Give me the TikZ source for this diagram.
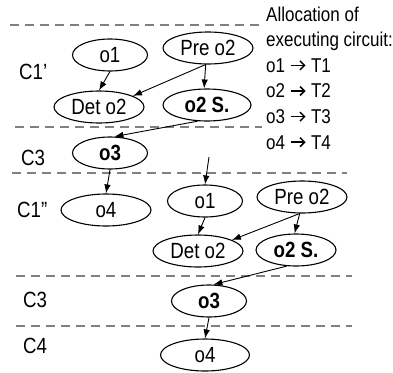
\documentclass[tikz,border=0pt]{standalone}
\usepackage{fontspec}
\setmainfont{Liberation Sans}[FakeStretch=0.85]
\usetikzlibrary{shapes.geometric,arrows.meta}

\tikzset{
	op/.style={draw, ellipse, line width=1.1pt, inner sep=0pt, minimum width=#1, minimum height=32pt, font=\fontsize{22}{24}\selectfont},
	op/.default=75pt,
	flow/.style={-{Latex[length=9pt,width=6.5pt]}, line width=0.9pt},
	cut/.style={gray, line width=2pt, dash pattern=on 9pt off 6pt},
	phase/.style={anchor=west, inner sep=0pt, font=\fontsize{22}{24}\selectfont}
}
% open arrow for the allocation list
\newcommand{\allocto}{\tikz[x=1pt,y=1pt,baseline=0pt]\draw[line width=1.5pt,-{Straight Barb[length=4.5pt,width=9pt]}] (0,7) -- (15,7);}

\begin{document}
\begin{tikzpicture}[x=1pt,y=-1pt]
	\useasboundingbox (0,0) rectangle (393,372);
	% cycle borders
	\draw[cut] (10,25) -- (262,25);
	\draw[cut] (15,127) -- (262,127);
	\draw[cut] (12,173) -- (347,173);
	\draw[cut] (16,276) -- (352,276);
	\draw[cut] (16,326) -- (352,326);
	\node[phase] (c1a) at (19,72) {C1’};
	\node[phase] (c3a) at (21,158) {C3};
	\node[phase] (c1b) at (17,210) {C1”};
	\node[phase] (c3b) at (23,300) {C3};
	\node[phase] (c4) at (23,346) {C4};
	% first schedule
	\node[op] (o1a) at (110,55) {o1};
	\node[op=90pt] (pre2a) at (208,48) {Pre o2};
	\node[op=90pt] (det2a) at (99,107) {Det o2};
	\node[op=88pt] (s2a) at (207,105) {\textbf{o2 S.}};
	\node[op] (o3a) at (110,153) {\textbf{o3}};
	\node[op=90pt] (o4a) at (106,210) {o4};
	\draw[flow] (o1a.south) -- (det2a.north);
	\draw[flow] (pre2a.262) -- (det2a.18);
	\draw[flow] (pre2a.262) -- (s2a.100);
	\draw[flow] (s2a.240) -- (o3a.75);
	\draw[flow] (o3a.south) -- (o4a.north);
	% second schedule
	\coordinate (in) at (209,157);
	\node[op] (o1b) at (205,201) {o1};
	\node[op=90pt] (pre2b) at (302,197) {Pre o2};
	\node[op=90pt] (det2b) at (198,251) {Det o2};
	\node[op=80pt] (s2b) at (296,250) {\textbf{o2 S.}};
	\node[op] (o3b) at (209,301) {\textbf{o3}};
	\node[op=89pt] (o4b) at (205,355) {o4};
	\draw[flow] (in) -- (o1b.north);
	\draw[flow] (o1b.south) -- (det2b.north);
	\draw[flow] (pre2b.262) -- (det2b.18);
	\draw[flow] (pre2b.262) -- (s2b.95);
	\draw[flow] (s2b.240) -- (o3b.75);
	\draw[flow] (o3b.south) -- (o4b.north);
	\node[anchor=north west, align=left, inner sep=0pt, font=\fontsize{20}{25.6}\selectfont] (alloc) at (266,6.5)
		{Allocation of\\executing circuit:\\o1 \allocto{} T1\\o2 \allocto{} T2\\o3 \allocto{} T3\\o4 \allocto{} T4};
\end{tikzpicture}
\end{document}
